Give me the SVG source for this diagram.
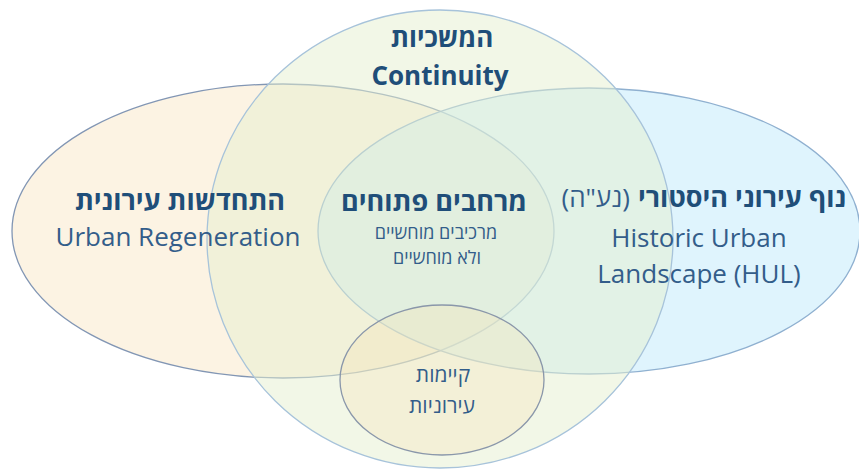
<svg xmlns="http://www.w3.org/2000/svg" width="859" height="470" viewBox="0 0 859 470">
  <style>
    .shape { stroke-width: 1.3; fill-opacity: 0.5; }
    .t { font-family: "Open Sans", "Liberation Sans", "DejaVu Sans", sans-serif; }
    .b { font-weight: 700; fill: #1f4e79; font-size: 27px; }
    .b2 { font-size: 26px; }
    .r { font-weight: 400; fill: #335d8a; }
    .en { font-size: 26px; }
    .he-s { font-size: 18px; }
    .he-m { font-size: 21px; }
  </style>
  <rect width="859" height="470" fill="#ffffff"/>
  <g id="node-regeneration">
    <ellipse class="shape" cx="283" cy="231" rx="271" ry="147" fill="#f9e7c7" stroke="#8296b4"/>
  </g>
  <g id="node-hul">
    <ellipse class="shape" cx="589" cy="231" rx="271" ry="143" fill="#bfeafb" stroke="#8fb0d0"/>
  </g>
  <g id="node-continuity">
    <ellipse class="shape" cx="440" cy="239" rx="233" ry="229" fill="#e5efcf" stroke="#a7c3da"/>
  </g>
  <g id="node-sustainability">
    <ellipse class="shape" cx="442" cy="380" rx="102" ry="75" fill="#f4e0b4" stroke="#8a97aa" style="fill-opacity:0.3"/>
  </g>
  <g id="connectors"/>
  <g id="labels">
    <g id="label-continuity">
      <text class="t b b2" x="442" y="47" text-anchor="middle">המשכיות</text>
      <text class="t b b2" x="440" y="85" text-anchor="middle">Continuity</text>
    </g>
    <g id="label-regeneration">
      <text class="t b" x="180" y="210" text-anchor="middle">התחדשות עירונית</text>
      <text class="t r en" x="178" y="246" text-anchor="middle">Urban Regeneration</text>
    </g>
    <g id="label-open-spaces">
      <text class="t b" x="434" y="211" text-anchor="middle">מרחבים פתוחים</text>
      <text class="t r he-s" x="436" y="239" text-anchor="middle">מרכיבים מוחשיים</text>
      <text class="t r he-s" x="437" y="264" text-anchor="middle">ולא מוחשיים</text>
    </g>
    <g id="label-hul">
      <text class="t b" x="846" y="207" text-anchor="end">נוף עירוני היסטורי</text>
      <text class="t r en" x="630" y="207" text-anchor="end">(נע&quot;ה)</text>
      <text class="t r en" x="699" y="247" text-anchor="middle">Historic Urban</text>
      <text class="t r en" x="699" y="283" text-anchor="middle">Landscape (HUL)</text>
    </g>
    <g id="label-sustainability">
      <text class="t r he-m" x="443" y="382" text-anchor="middle">קיימות</text>
      <text class="t r he-m" x="442" y="413" text-anchor="middle">עירוניות</text>
    </g>
  </g>
</svg>
